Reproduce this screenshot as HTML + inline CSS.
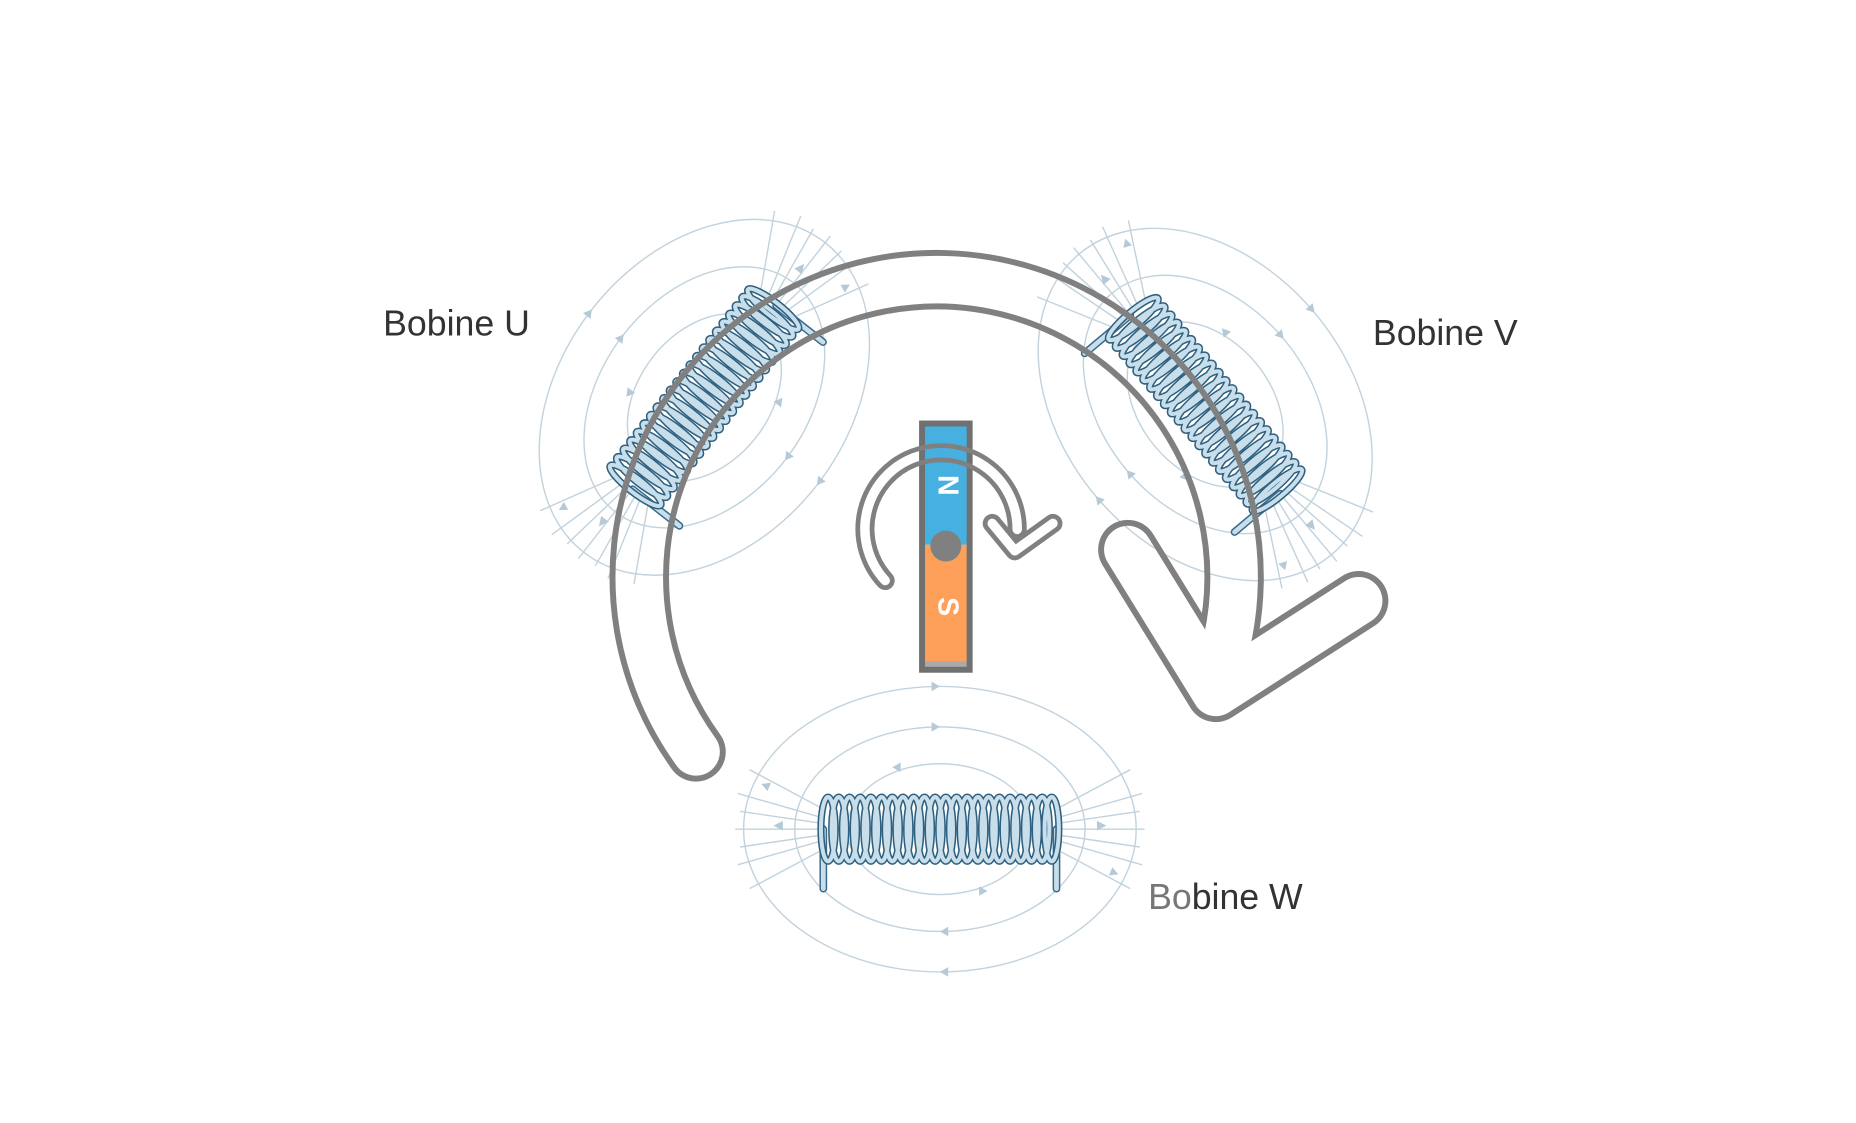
<!DOCTYPE html>
<html><head><meta charset="utf-8"><style>
html,body{margin:0;padding:0;background:#fff;}
svg{display:block;}
text{font-family:"Liberation Sans",sans-serif;}
</style></head><body>
<svg width="1856" height="1123" viewBox="0 0 1560 944" xmlns="http://www.w3.org/2000/svg">
<defs>
<path id="loops" fill="none" d="M-94,-27a6,27 0 1,0 0,54a6,27 0 1,0 0,-54M-85,-27a6,27 0 1,0 0,54a6,27 0 1,0 0,-54M-76,-27a6,27 0 1,0 0,54a6,27 0 1,0 0,-54M-67,-27a6,27 0 1,0 0,54a6,27 0 1,0 0,-54M-58,-27a6,27 0 1,0 0,54a6,27 0 1,0 0,-54M-49,-27a6,27 0 1,0 0,54a6,27 0 1,0 0,-54M-40,-27a6,27 0 1,0 0,54a6,27 0 1,0 0,-54M-31,-27a6,27 0 1,0 0,54a6,27 0 1,0 0,-54M-22,-27a6,27 0 1,0 0,54a6,27 0 1,0 0,-54M-13,-27a6,27 0 1,0 0,54a6,27 0 1,0 0,-54M-4,-27a6,27 0 1,0 0,54a6,27 0 1,0 0,-54M5,-27a6,27 0 1,0 0,54a6,27 0 1,0 0,-54M14,-27a6,27 0 1,0 0,54a6,27 0 1,0 0,-54M23,-27a6,27 0 1,0 0,54a6,27 0 1,0 0,-54M32,-27a6,27 0 1,0 0,54a6,27 0 1,0 0,-54M41,-27a6,27 0 1,0 0,54a6,27 0 1,0 0,-54M50,-27a6,27 0 1,0 0,54a6,27 0 1,0 0,-54M59,-27a6,27 0 1,0 0,54a6,27 0 1,0 0,-54M68,-27a6,27 0 1,0 0,54a6,27 0 1,0 0,-54M77,-27a6,27 0 1,0 0,54a6,27 0 1,0 0,-54M86,-27a6,27 0 1,0 0,54a6,27 0 1,0 0,-54M94,-27a6,27 0 1,0 0,54a6,27 0 1,0 0,-54"/>
<g id="coil">
  <g fill="none" stroke="#c2d3de" stroke-width="1.2">
    <ellipse cx="0" cy="0" rx="165" ry="120"/>
    <ellipse cx="0" cy="0" rx="122" ry="86"/>
    <ellipse cx="0" cy="0" rx="78" ry="55"/>
    <path d="M-100,-10 L-170,-30 M-100,0 L-172,0 M-100,10 L-170,30 M-100,-18 L-160,-50 M-100,18 L-160,50 M-100,-5 L-168,-15 M-100,5 L-168,15 M100,-10 L170,-30 M100,0 L172,0 M100,10 L170,30 M100,-18 L160,-50 M100,18 L160,50 M100,-5 L168,-15 M100,5 L168,15"/>
  </g>
  <g fill="#b5c9d6">
    <path d="M-140,-3 l8,-4 l0,8z M140,-3 l-8,-4 l0,8z M-150,-38 l8,-1 l-3,7z M150,38 l-8,1 l3,-7z M0,-120 l-7,-4 l0,8z M0,120 l7,-4 l0,8z M0,-86 l-7,-4 l0,8z M0,86 l7,-4 l0,8z M-40,-52 l7,-4 l0,8z M40,52 l-7,-4 l0,8z"/>
  </g>
  <path d="M-98,0 L-98,50 M98,0 L98,50" stroke="#3a6a8a" stroke-width="6.5" stroke-linecap="round"/>
  <path d="M-98,0 L-98,50 M98,0 L98,50" stroke="#c8dfeb" stroke-width="4" stroke-linecap="round"/>
  <use href="#loops" stroke="#2f607f" stroke-width="6"/>
  <use href="#loops" stroke="#c8dfeb" stroke-width="3.4"/>
</g>
<mask id="bigmask" maskUnits="userSpaceOnUse" x="0" y="0" width="1560" height="944">
  <rect width="1560" height="944" fill="black"/>
  <g fill="none" stroke-linecap="round" stroke-linejoin="round">
    <path d="M585,632 A250,250 0 1,1 1030,545" stroke="white" stroke-width="50"/>
    <path d="M948,462 L1022,582 L1142,505" stroke="white" stroke-width="50"/>
    <path d="M585,632 A250,250 0 1,1 1030,545" stroke="black" stroke-width="40"/>
    <path d="M948,462 L1022,582 L1142,505" stroke="black" stroke-width="40"/>
  </g>
</mask>
<mask id="smask" maskUnits="userSpaceOnUse" x="0" y="0" width="1560" height="944">
  <rect width="1560" height="944" fill="black"/>
  <g fill="none" stroke-linecap="round" stroke-linejoin="round">
    <path d="M744,488 A64,64 0 1,1 855,445" stroke="white" stroke-width="16"/>
    <path d="M834,440 L853,463 L885,440" stroke="white" stroke-width="16"/>
    <path d="M744,488 A64,64 0 1,1 855,445" stroke="black" stroke-width="8"/>
    <path d="M834,440 L853,463 L885,440" stroke="black" stroke-width="8"/>
  </g>
</mask>
</defs>

<!-- coils -->
<use href="#coil" transform="translate(592,334) rotate(-52)"/>
<use href="#coil" transform="translate(1013,340) rotate(50)"/>
<use href="#coil" transform="translate(790,697)"/>

<!-- big arrow outline -->
<rect width="1560" height="944" fill="#808080" mask="url(#bigmask)"/>

<!-- magnet -->
<rect x="775" y="356" width="40" height="102" fill="#46b0e0"/>
<rect x="775" y="458" width="40" height="100" fill="#ffa05a"/>
<rect x="775" y="556" width="40" height="7" fill="#aaaaaa"/>
<rect x="775" y="356" width="40" height="207" fill="none" stroke="#707070" stroke-width="5"/>
<text x="795" y="408" fill="#fff" font-size="24" font-weight="bold" text-anchor="middle" dominant-baseline="middle" transform="rotate(90 795 408)">N</text>
<text x="795" y="510" fill="#fff" font-size="24" font-weight="bold" text-anchor="middle" dominant-baseline="middle" transform="rotate(90 795 510)">S</text>

<!-- small rotation arrow -->
<rect width="1560" height="944" fill="#808080" mask="url(#smask)"/>
<circle cx="795" cy="459" r="13" fill="#808080"/>

<!-- labels -->
<text x="322" y="282" font-size="30" fill="#333">Bobine U</text>
<text x="1154" y="290" font-size="30" fill="#333">Bobine V</text>
<text x="965" y="764" font-size="30" fill="#333"><tspan fill="#777">Bo</tspan>bine W</text>
</svg>
</body></html>
